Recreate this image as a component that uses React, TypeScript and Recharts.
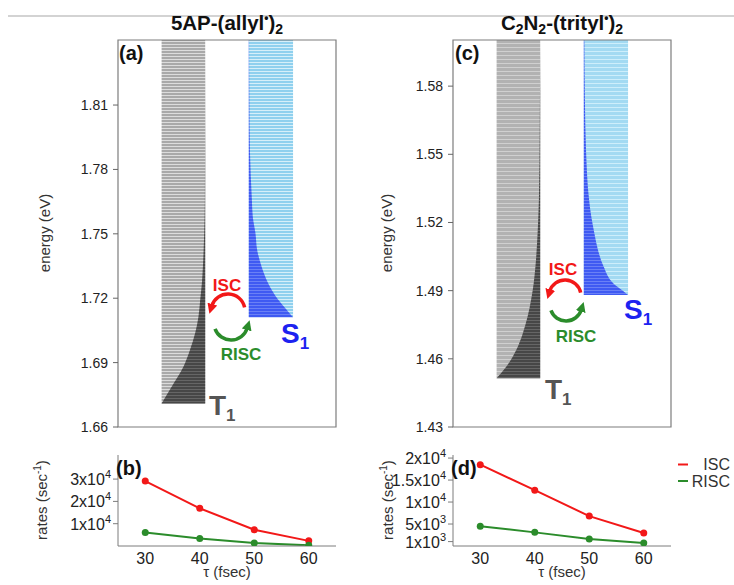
import React from 'react';
import { ComposedChart, LineChart, Line, Area, XAxis, YAxis, ReferenceArea } from 'recharts';

const FONT = "'Liberation Sans', Arial, Helvetica, sans-serif";

// (a) 5AP-(allyl*)2 : energy levels, fraction of the column that is populated
const energyTicksA = [1.66, 1.69, 1.72, 1.75, 1.78, 1.81];
const energyDomainA = [1.66, 1.8403];
const t1EnergyA = [1.671, 1.6788, 1.6881, 1.6959, 1.7038, 1.7114, 1.7192, 1.7271, 1.7347, 1.7504, 1.7657, 1.8403];
const t1PopA = [1.0, 0.77, 0.5, 0.35, 0.23, 0.155, 0.115, 0.076, 0.053, 0.023, 0.007, 0];
const s1EnergyA = [1.7111, 1.7145, 1.7192, 1.7269, 1.7347, 1.7424, 1.7504, 1.758, 1.7657, 1.789, 1.8123, 1.8403];
const s1PopA = [1.0, 0.86, 0.67, 0.44, 0.29, 0.19, 0.15, 0.09, 0.07, 0.025, 0.012, 0.006];

// (c) C2N2-(trityl*)2
const energyTicksC = [1.43, 1.46, 1.49, 1.52, 1.55, 1.58];
const energyDomainC = [1.43, 1.6003];
const t1EnergyC = [1.4514, 1.4565, 1.4639, 1.4712, 1.4785, 1.4859, 1.4932, 1.5005, 1.5152, 1.5299, 1.5607, 1.6003];
const t1PopC = [1.0, 0.78, 0.55, 0.4, 0.29, 0.21, 0.15, 0.11, 0.06, 0.03, 0.01, 0];
const s1EnergyC = [1.4881, 1.4903, 1.4932, 1.5005, 1.5079, 1.5152, 1.5225, 1.5299, 1.5519, 1.5739, 1.6003];
const s1PopC = [1.0, 0.86, 0.67, 0.45, 0.32, 0.24, 0.17, 0.12, 0.05, 0.025, 0.012];

// (b), (d) rates vs tau
const tau = [30, 40, 50, 60];
const tauTicks = [30, 40, 50, 60];
const iscB = [29100, 16900, 7300, 2300];
const riscB = [6100, 3400, 1300, 300];
const rateTicksB = [10000, 20000, 30000];
const iscD = [18500, 12700, 6800, 2950];
const riscD = [4500, 3100, 1600, 700];
const rateTicksD = [1000, 5000, 10000, 15000, 20000];

// column placement on the hidden 0..100 x axis
const T1_L = 20;
const T1_R = 40;
const S1_L = 60;
const S1_R = 80.3;

const FRAME = '#7d7d7d';
const RED = '#f21818';
const GREEN = '#2b8c2b';

const column = (lo: number, hi: number, x: number) => [{ e: lo, x }, { e: hi, x }];
const darkT1 = (E: number[], P: number[]) => E.map((e, i) => ({ e, x: T1_R - P[i] * (T1_R - T1_L) }));
const darkS1 = (E: number[], P: number[]) => E.map((e, i) => ({ e, x: S1_L + P[i] * (S1_R - S1_L) }));

function EnergyPanel({ domain, ticks, t1E, t1P, s1E, s1P, pat }: any) {
  return (
    <ComposedChart layout="vertical" width={360} height={440} margin={{ top: 40, right: 24, bottom: 13, left: 0 }}>
      <XAxis type="number" domain={[0, 100]} hide allowDataOverflow />
      <YAxis
        type="number"
        dataKey="e"
        domain={domain}
        ticks={ticks}
        reversed
        interval={0}
        allowDataOverflow
        width={118}
        axisLine={false}
        stroke="#666"
        tickSize={5}
        tickMargin={5}
        tickFormatter={(v: number) => v.toFixed(2)}
        tick={{ fontSize: 14, fill: '#222' }}
      />
      <YAxis
        yAxisId="r"
        orientation="right"
        type="number"
        dataKey="e"
        domain={domain}
        ticks={ticks}
        reversed
        interval={0}
        allowDataOverflow
        width={0}
        mirror
        axisLine={false}
        stroke="#666"
        tickSize={5}
        tickFormatter={() => ''}
      />
      <Area data={column(t1E[0], domain[1], T1_L)} dataKey="x" baseValue={T1_R} type="linear" stroke="none" fill={`url(#${pat}Gray)`} fillOpacity={1} isAnimationActive={false} dot={false} activeDot={false} />
      <Area data={column(s1E[0], domain[1], S1_R)} dataKey="x" baseValue={S1_L} type="linear" stroke="none" fill={`url(#${pat}Blue)`} fillOpacity={1} isAnimationActive={false} dot={false} activeDot={false} />
      <Area data={darkT1(t1E, t1P)} dataKey="x" baseValue={T1_R} type="monotone" stroke="none" fill="url(#darkGray)" fillOpacity={1} isAnimationActive={false} dot={false} activeDot={false} />
      <Area data={darkS1(s1E, s1P)} dataKey="x" baseValue={S1_L} type="monotone" stroke="none" fill="url(#darkBlue)" fillOpacity={1} isAnimationActive={false} dot={false} activeDot={false} />
      <ReferenceArea x1={0} x2={100} y1={domain[0]} y2={domain[1]} fill="none" stroke={FRAME} strokeWidth={1.2} />
    </ComposedChart>
  );
}

function SciTick(props: any) {
  const { x, y, payload } = props;
  const v = payload.value;
  const p = Math.floor(Math.log10(v) + 1e-9);
  const m = +(v / 10 ** p).toFixed(1);
  return (
    <text x={x} y={y + 6} textAnchor="end" fontSize={16} fill="#222">
      {`${m}x10`}
      <tspan dy={-7} fontSize={11}>{p}</tspan>
    </text>
  );
}

function RatesPanel({ isc, risc, domain, ticks }: any) {
  const data = tau.map((t, i) => ({ t, isc: isc[i], risc: risc[i] }));
  return (
    <LineChart width={360} height={145} data={data} margin={{ top: 15, right: 24, bottom: 0, left: 0 }}>
      <XAxis type="number" dataKey="t" domain={[25, 65]} ticks={tauTicks} interval={0} allowDataOverflow height={39} stroke={FRAME} tickLine={false} tickSize={5} tickMargin={2} tick={{ fontSize: 16, fill: '#222' }} />
      <XAxis xAxisId="top" orientation="top" type="number" dataKey="t" domain={[25, 65]} ticks={tauTicks} interval={0} allowDataOverflow height={0} mirror stroke={FRAME} tickSize={5} tickFormatter={() => ''} />
      <YAxis type="number" domain={domain} ticks={ticks} interval={0} allowDataOverflow width={118} stroke={FRAME} tickSize={5} tickMargin={2} tick={<SciTick />} />
      <YAxis yAxisId="r" orientation="right" type="number" domain={domain} ticks={ticks} interval={0} allowDataOverflow width={0} mirror stroke={FRAME} tickSize={5} tickFormatter={() => ''} />
      <Line dataKey="isc" type="linear" stroke={RED} strokeWidth={2} dot={{ r: 3.5, fill: RED, stroke: 'none' }} activeDot={false} isAnimationActive={false} />
      <Line dataKey="risc" type="linear" stroke={GREEN} strokeWidth={2} dot={{ r: 3.5, fill: GREEN, stroke: 'none' }} activeDot={false} isAnimationActive={false} />
    </LineChart>
  );
}

function arc(cx: number, cy: number, r: number, a0: number, a1: number) {
  const rad = Math.PI / 180;
  const x0 = cx + r * Math.cos(a0 * rad);
  const y0 = cy + r * Math.sin(a0 * rad);
  const x1 = cx + r * Math.cos(a1 * rad);
  const y1 = cy + r * Math.sin(a1 * rad);
  return `M${x0},${y0} A${r},${r} 0 0 0 ${x1},${y1}`;
}

function Transfer({ red, green, isc, risc }: any) {
  return (
    <g fontWeight="bold" fontSize={17} textAnchor="middle">
      <text x={isc[0]} y={isc[1]} fill={RED}>ISC</text>
      <path d={arc(red[0], red[1], red[2], -12, -163)} fill="none" stroke={RED} strokeWidth={3.5} markerEnd="url(#headRed)" />
      <path d={arc(green[0], green[1], green[2], 160, 17)} fill="none" stroke={GREEN} strokeWidth={3.5} markerEnd="url(#headGreen)" />
      <text x={risc[0]} y={risc[1]} fill={GREEN}>RISC</text>
    </g>
  );
}

function StateLabel({ x, y, name, color }: any) {
  return (
    <text x={x} y={y} fontWeight="bold" fontSize={28} fill={color}>
      {name}
      <tspan dy={6} fontSize={17}>1</tspan>
    </text>
  );
}

export default function App() {
  return (
    <div style={{ position: 'absolute', left: 0, top: 0, width: 734, height: 585, background: '#fff', fontFamily: FONT }}>
      <div style={{ position: 'absolute', left: 0, top: 0 }}>
        <EnergyPanel domain={energyDomainA} ticks={energyTicksA} t1E={t1EnergyA} t1P={t1PopA} s1E={s1EnergyA} s1P={s1PopA} pat="a" />
      </div>
      <div style={{ position: 'absolute', left: 335, top: 0 }}>
        <EnergyPanel domain={energyDomainC} ticks={energyTicksC} t1E={t1EnergyC} t1P={t1PopC} s1E={s1EnergyC} s1P={s1PopC} pat="c" />
      </div>
      <div style={{ position: 'absolute', left: 0, top: 440 }}>
        <RatesPanel isc={iscB} risc={riscB} domain={[0, 40800]} ticks={rateTicksB} />
      </div>
      <div style={{ position: 'absolute', left: 335, top: 440 }}>
        <RatesPanel isc={iscD} risc={riscD} domain={[0, 20700]} ticks={rateTicksD} />
      </div>
      <svg width={734} height={585} style={{ position: 'absolute', left: 0, top: 0, pointerEvents: 'none' }}>
        <defs>
          <pattern id="aGray" width="4" height="3" patternUnits="userSpaceOnUse">
            <rect width="4" height="3" fill="#dcdcdc" />
            <rect width="4" height="2" fill="#a9a9a9" />
          </pattern>
          <pattern id="aBlue" width="4" height="3" patternUnits="userSpaceOnUse">
            <rect width="4" height="3" fill="#d6eff9" />
            <rect width="4" height="2" fill="#8fd0ee" />
          </pattern>
          <pattern id="cGray" width="4" height="4" patternUnits="userSpaceOnUse">
            <rect width="4" height="4" fill="#d0d0d0" />
            <rect width="4" height="3" fill="#b2b2b2" />
          </pattern>
          <pattern id="cBlue" width="4" height="4" patternUnits="userSpaceOnUse">
            <rect width="4" height="4" fill="#cdeefb" />
            <rect width="4" height="3" fill="#a3daf2" />
          </pattern>
          <pattern id="darkGray" width="4" height="3" patternUnits="userSpaceOnUse">
            <rect width="4" height="3" fill="#666" />
            <rect width="4" height="2" fill="#474747" />
          </pattern>
          <pattern id="darkBlue" width="4" height="3" patternUnits="userSpaceOnUse">
            <rect width="4" height="3" fill="#6a80f6" />
            <rect width="4" height="2" fill="#3f5af2" />
          </pattern>
          <marker id="headRed" viewBox="0 0 10 10" refX="2" refY="5" markerWidth="10" markerHeight="11" markerUnits="userSpaceOnUse" orient="auto">
            <path d="M0,0 L10,5 L0,10 z" fill={RED} />
          </marker>
          <marker id="headGreen" viewBox="0 0 10 10" refX="2" refY="5" markerWidth="10" markerHeight="11" markerUnits="userSpaceOnUse" orient="auto">
            <path d="M0,0 L10,5 L0,10 z" fill={GREEN} />
          </marker>
        </defs>

        <line x1={8} y1={16} x2={734} y2={16} stroke="#c4c4c4" strokeWidth={1.5} />

        <g fontWeight="bold" fontSize={20.5} textAnchor="middle" fill="#111">
          <text x={227} y={30}>
            5AP-(allyl<tspan fontSize={12} dy={-8}>•</tspan>
            <tspan dy={8}>)</tspan>
            <tspan fontSize={14} dy={4}>2</tspan>
          </text>
          <text x={562} y={30}>
            C<tspan fontSize={14} dy={4}>2</tspan>
            <tspan dy={-4}>N</tspan>
            <tspan fontSize={14} dy={4}>2</tspan>
            <tspan dy={-4}>-(trityl</tspan>
            <tspan fontSize={12} dy={-8}>•</tspan>
            <tspan dy={8}>)</tspan>
            <tspan fontSize={14} dy={4}>2</tspan>
          </text>
        </g>

        <g fontWeight="bold" fontSize={20} fill="#111">
          <text x={119} y={60}>(a)</text>
          <text x={455} y={60}>(c)</text>
          <text x={116} y={475}>(b)</text>
          <text x={451} y={475}>(d)</text>
        </g>

        <g fontSize={15} fill="#333" textAnchor="middle">
          <text transform="translate(50,233) rotate(-90)">energy (eV)</text>
          <text transform="translate(392,233) rotate(-90)">energy (eV)</text>
          <text transform="translate(47,500) rotate(-90)">
            rates (sec<tspan fontSize={10} dy={-6}>-1</tspan>
            <tspan dy={6}>)</tspan>
          </text>
          <text transform="translate(393,500) rotate(-90)">
            rates (sec<tspan fontSize={10} dy={-6}>-1</tspan>
            <tspan dy={6}>)</tspan>
          </text>
        </g>
        <g fontSize={15} fill="#333" textAnchor="middle">
          <text x={227} y={577}>τ (fsec)</text>
          <text x={562} y={577}>τ (fsec)</text>
        </g>

        <Transfer red={[228, 311, 17]} green={[231, 323, 17]} isc={[227, 291]} risc={[241, 360]} />
        <Transfer red={[565, 296, 16]} green={[566, 305, 16]} isc={[563, 275]} risc={[576, 342]} />

        <StateLabel x={281} y={343} name="S" color="#1c22f0" />
        <StateLabel x={209} y={415} name="T" color="#555" />
        <StateLabel x={624} y={319} name="S" color="#1c22f0" />
        <StateLabel x={545} y={399} name="T" color="#555" />

        <g fontSize={16} fill="#333" textAnchor="end">
          <line x1={678} y1={464.5} x2={688} y2={464.5} stroke={RED} strokeWidth={2} />
          <text x={730} y={470}>ISC</text>
          <line x1={678} y1={481} x2={688} y2={481} stroke={GREEN} strokeWidth={2} />
          <text x={730} y={487}>RISC</text>
        </g>
      </svg>
    </div>
  );
}
